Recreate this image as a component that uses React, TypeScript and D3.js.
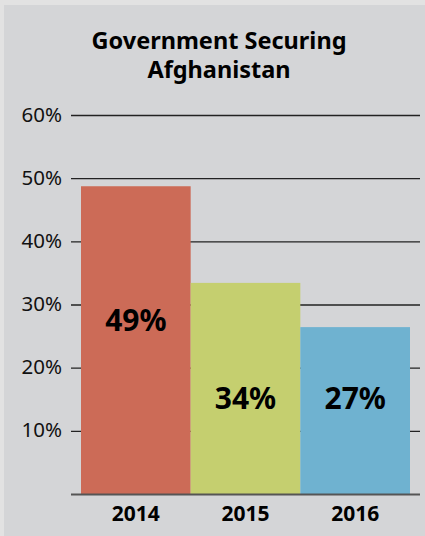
import React from "react";
import * as d3 from "d3";

const years = ["2014", "2015", "2016"];
const values = [48.8, 33.5, 26.5];
const valueLabels = ["49%", "34%", "27%"];
const labelAt = [25.9, 13.6, 13.6];
const colors = ["#cc6b57", "#c5cf6f", "#6fb2d0"];
const yTicks = [10, 20, 30, 40, 50, 60];
const titleLines = ["Government Securing", "Afghanistan"];

const W = 425;
const H = 536;
const FONT = "'Noto Sans', 'Open Sans', sans-serif";

export default function App() {
  const x = d3.scaleBand<string>().domain(years).range([81, 410]).padding(0);
  const y = d3.scaleLinear().domain([0, 60]).range([494.5, 115.5]);
  const gridX0 = 71;
  const gridX1 = 420;

  return (
    <svg
      width={W}
      height={H}
      style={{ position: "absolute", left: 0, top: 0 }}
      fontFamily={FONT}
    >
      <rect x={0} y={0} width={W} height={H} fill="#e2e2e2" />
      <rect x={4} y={5} width={W - 4} height={H - 5} fill="#d4d5d7" />

      <text
        x={219}
        y={49}
        textAnchor="middle"
        fontWeight={700}
        fontSize={23.5}
        fill="#000"
      >
        {titleLines.map((t, i) => (
          <tspan key={t} x={219} dy={i === 0 ? 0 : 28.5}>
            {t}
          </tspan>
        ))}
      </text>

      {yTicks.map((t) => (
        <g key={t}>
          <line
            x1={gridX0}
            x2={gridX1}
            y1={y(t)}
            y2={y(t)}
            stroke="#222"
            strokeWidth={1.4}
          />
          <text
            x={62}
            y={y(t) + 6}
            textAnchor="end"
            fontSize={20.5}
            fill="#111"
          >
            {t}%
          </text>
        </g>
      ))}

      {years.map((yr, i) => (
        <rect
          key={yr}
          x={x(yr)}
          y={y(values[i])}
          width={x.bandwidth()}
          height={y(0) - y(values[i])}
          fill={colors[i]}
        />
      ))}

      <line
        x1={gridX0}
        x2={gridX1}
        y1={y(0)}
        y2={y(0)}
        stroke="#555"
        strokeWidth={1.8}
      />

      {years.map((yr, i) => (
        <text
          key={"v" + yr}
          x={(x(yr) as number) + x.bandwidth() / 2}
          y={y(labelAt[i])}
          textAnchor="middle"
          fontWeight={700}
          fontSize={30}
          fill="#000"
        >
          {valueLabels[i]}
        </text>
      ))}

      {years.map((yr) => (
        <text
          key={"x" + yr}
          x={(x(yr) as number) + x.bandwidth() / 2}
          y={521}
          textAnchor="middle"
          fontWeight={700}
          fontSize={21}
          fill="#000"
        >
          {yr}
        </text>
      ))}
    </svg>
  );
}
